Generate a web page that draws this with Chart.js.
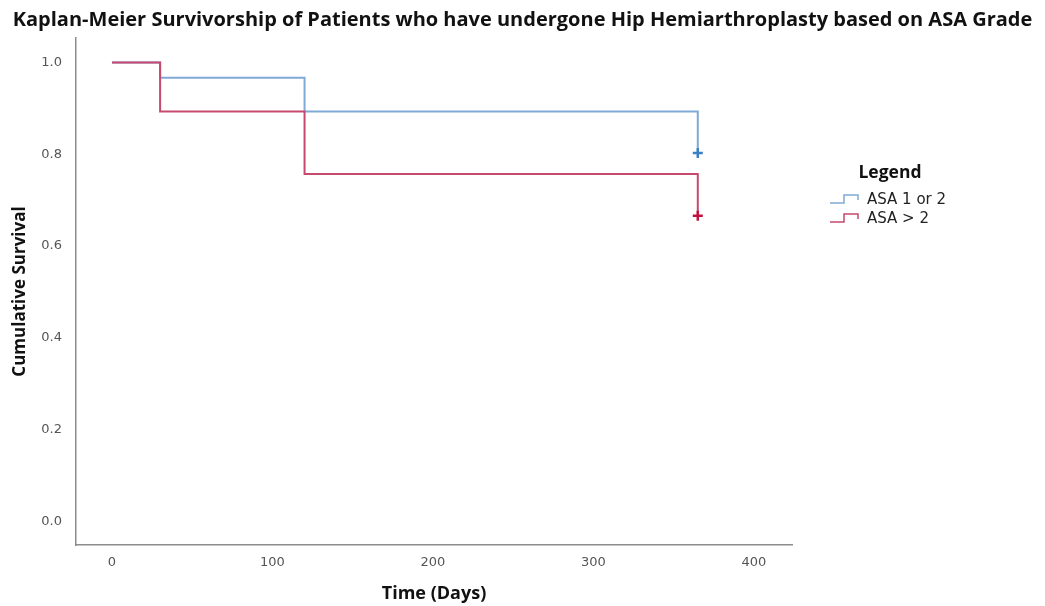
<!DOCTYPE html>
<html>
<head>
<meta charset="utf-8">
<title>Kaplan-Meier Survivorship by ASA Grade</title>
<script src="https://cdn.jsdelivr.net/npm/chart.js@4.4.1/dist/chart.umd.min.js"></script>
<style>
  html, body { margin: 0; padding: 0; background: #ffffff; }
  canvas { display: block; }
</style>
</head>
<body>
<canvas id="km" width="1045" height="606"></canvas>
<script>
// Group names
const groupNames = ['ASA 1 or 2', 'ASA > 2'];

// Event times (days) and cumulative survival after each step
const timesAsa12 = [0, 30, 120, 365];
const survivalAsa12 = [1.0, 0.967, 0.893, 0.803];
const censoredAsa12 = [false, false, false, true];

const timesAsa3 = [0, 30, 120, 365];
const survivalAsa3 = [1.0, 0.893, 0.757, 0.666];
const censoredAsa3 = [false, false, false, true];

// Axis tick labels
const xTickValues = [0, 100, 200, 300, 400];
const yTickValues = [0.0, 0.2, 0.4, 0.6, 0.8, 1.0];

const lineColors = ['#7fa9d6', '#c54a6e'];
const censorColors = ['#3b7fc4', '#c2123f'];

function toPoints(times, surv) {
  return times.map((t, i) => ({ x: t, y: surv[i] }));
}

function stepDataset(label, times, surv, censored, idx, order) {
  return {
    label: label,
    data: toPoints(times, surv),
    stepped: true,
    borderColor: lineColors[idx],
    borderWidth: 2,
    fill: false,
    order: order,
    pointStyle: 'cross',
    pointRadius: censored.map(c => (c ? 5 : 0)),
    pointHoverRadius: censored.map(c => (c ? 5 : 0)),
    pointBorderColor: censorColors[idx],
    pointBackgroundColor: censorColors[idx],
    pointBorderWidth: 2.5
  };
}

// Legend drawn at the right of the plot, with a small step-line icon per group
const stepLegend = {
  id: 'stepLegend',
  afterDraw(chart) {
    const ctx = chart.ctx;
    ctx.save();
    ctx.fillStyle = '#111111';
    ctx.font = 'bold 17.5px "Open Sans", sans-serif';
    ctx.textAlign = 'center';
    ctx.textBaseline = 'middle';
    ctx.fillText('Legend', 890, 173);
    chart.data.datasets.forEach((ds, i) => {
      const cy = 200 + i * 19;
      ctx.strokeStyle = ds.borderColor;
      ctx.lineWidth = 1.5;
      ctx.beginPath();
      ctx.moveTo(830, cy + 3);
      ctx.lineTo(844, cy + 3);
      ctx.lineTo(844, cy - 5);
      ctx.lineTo(858, cy - 5);
      ctx.lineTo(858, cy);
      ctx.stroke();
      ctx.fillStyle = '#222222';
      ctx.font = '15px "DejaVu Sans", sans-serif';
      ctx.textAlign = 'left';
      ctx.fillText(ds.label, 867, cy);
    });
    ctx.restore();
  }
};

new Chart(document.getElementById('km'), {
  type: 'line',
  data: {
    datasets: [
      stepDataset(groupNames[0], timesAsa12, survivalAsa12, censoredAsa12, 0, 1),
      stepDataset(groupNames[1], timesAsa3, survivalAsa3, censoredAsa3, 1, 0)
    ]
  },
  options: {
    responsive: false,
    animation: false,
    devicePixelRatio: 1,
    events: [],
    layout: { padding: 0 },
    plugins: {
      legend: { display: false },
      tooltip: { enabled: false },
      title: {
        display: true,
        text: 'Kaplan-Meier Survivorship of Patients who have undergone Hip Hemiarthroplasty based on ASA Grade',
        color: '#111111',
        font: { family: '"Open Sans", sans-serif', size: 20, weight: 'bold', lineHeight: 1.2 },
        padding: { top: 8, bottom: 6 }
      }
    },
    scales: {
      x: {
        type: 'linear',
        min: -22.4,
        max: 423.7,
        grid: { display: false, drawTicks: false },
        border: { display: true, color: '#8c8c8c', width: 1.5 },
        afterBuildTicks(scale) { scale.ticks = xTickValues.map(v => ({ value: v })); },
        afterFit(scale) { scale.height = 61; },
        ticks: {
          color: '#555555',
          padding: 10,
          font: { family: '"DejaVu Sans", sans-serif', size: 13 },
          callback: v => String(v)
        },
        title: {
          display: true,
          text: 'Time (Days)',
          color: '#111111',
          font: { family: '"Open Sans", sans-serif', size: 18, weight: 'bold', lineHeight: 1.2 },
          padding: { top: 0, bottom: 1 }
        }
      },
      y: {
        type: 'linear',
        min: -0.0512,
        max: 1.0534,
        grid: { display: false, drawTicks: false },
        border: { display: true, color: '#8c8c8c', width: 1.5 },
        afterBuildTicks(scale) { scale.ticks = yTickValues.map(v => ({ value: v })); },
        afterFit(scale) { scale.width = 76; },
        ticks: {
          color: '#555555',
          padding: 14,
          font: { family: '"DejaVu Sans", sans-serif', size: 13 },
          callback: v => Number(v).toFixed(1)
        },
        title: {
          display: true,
          text: 'Cumulative Survival',
          color: '#111111',
          font: { family: '"Open Sans", sans-serif', size: 17, weight: 'bold', lineHeight: 1.2 },
          padding: { top: 10, bottom: 0 }
        }
      },
      // empty band on the right that holds the legend
      legendSpace: {
        type: 'linear',
        position: 'right',
        display: true,
        grid: { display: false, drawTicks: false },
        border: { display: false },
        ticks: { display: false },
        afterFit(scale) { scale.width = 253; }
      }
    }
  },
  plugins: [stepLegend]
});
</script>
</body>
</html>
